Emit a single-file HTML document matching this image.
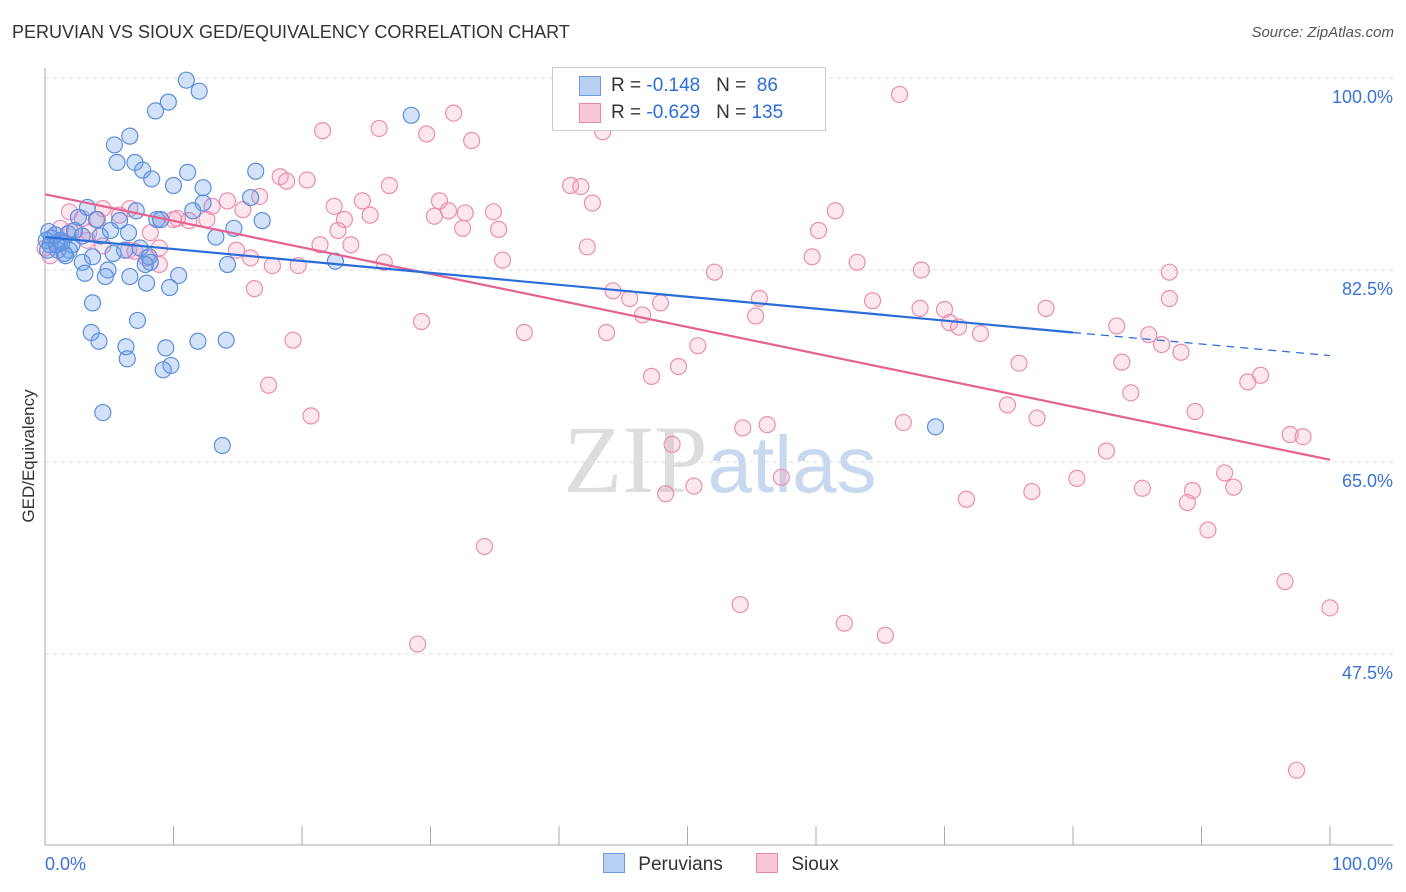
<!DOCTYPE html>
<html><head><meta charset="utf-8">
<style>
body{margin:0;background:#fff;font-family:"Liberation Sans",sans-serif;}
#wrap{position:relative;width:1406px;height:892px;overflow:hidden;}
.t{position:absolute;white-space:nowrap;}
</style></head>
<body>
<div id="wrap">
<div class="t" style="left:12px;top:22px;font-size:18px;color:#333;">PERUVIAN VS SIOUX GED/EQUIVALENCY CORRELATION CHART</div>
<div class="t" style="right:12px;top:24px;font-size:15px;color:#555;font-style:italic;">Source: ZipAtlas.com</div>
<svg id="plot" width="1406" height="892" style="position:absolute;left:0;top:0"></svg>
</div>
<script>
const yTicks=[100,82.5,65,47.5];
const yTickLabels=["100.0%","82.5%","65.0%","47.5%"];
const xTickCount=10;
const blueX=[11.0,12.0,9.6,8.6,28.5,6.6,5.4,7.0,5.6,7.6,11.1,16.4,8.3,10.0,12.3,16.0,12.3,3.3,7.1,11.5,16.9,8.7,2.6,4.0,5.8,9.0,14.7,13.3,0.3,0.8,1.2,1.8,2.3,2.9,0.4,1.0,1.5,1.9,4.3,5.1,6.5,5.3,6.2,7.4,8.1,7.8,8.2,2.9,3.7,4.9,10.4,6.6,4.7,3.1,14.2,22.6,9.7,7.9,3.7,7.2,3.6,4.2,6.3,9.4,11.9,14.1,6.4,9.8,9.2,4.5,13.8,69.3,0.1,0.5,0.9,1.3,2.1,0.2,1.6];
const blueY=[99.8,98.8,97.8,97.0,96.6,94.7,93.9,92.3,92.3,91.6,91.4,91.5,90.8,90.2,90.0,89.1,88.6,88.2,87.9,87.9,87.0,87.1,87.3,87.1,87.0,87.1,86.3,85.5,86.0,85.7,85.2,85.8,86.1,85.6,84.8,84.3,84.0,84.3,85.6,86.1,85.9,84.0,84.3,84.5,83.7,83.0,83.2,83.2,83.7,82.5,82.0,81.9,81.9,82.2,83.0,83.3,80.9,81.3,79.5,77.9,76.8,76.0,75.5,75.4,76.0,76.1,74.4,73.8,73.4,69.5,66.5,68.2,85.2,85.4,84.8,85.0,84.8,84.3,83.8];
const pinkX=[66.5,31.8,21.6,26.0,29.7,33.2,43.4,18.3,20.4,18.8,26.8,40.9,41.7,16.7,22.5,24.7,30.7,42.6,31.4,32.7,34.9,61.5,30.3,25.3,23.3,14.2,13.0,15.4,10.3,11.2,12.6,6.6,4.5,1.9,2.9,4.1,5.8,1.2,2.0,3.3,8.2,9.0,10.0,14.9,16.0,21.4,22.8,23.8,32.5,35.3,42.2,60.2,4.5,7.0,8.9,8.9,7.9,6.5,3.4,0.4,17.7,19.7,26.4,35.6,52.1,59.7,63.2,68.2,87.5,16.3,44.2,45.5,47.9,55.6,64.4,68.1,70.0,77.9,87.5,46.5,55.3,70.4,71.1,72.8,83.4,85.9,86.9,88.4,29.3,37.3,43.7,50.8,19.3,75.8,83.8,94.6,93.6,17.4,47.2,49.3,84.5,74.9,89.5,20.7,77.2,54.3,56.2,66.8,48.8,96.9,97.9,82.6,91.8,80.3,57.3,50.5,48.3,71.7,76.8,85.4,89.3,88.9,92.5,90.5,34.2,96.5,54.1,100.0,62.2,65.4,29.0,97.4,0.0];
const pinkY=[98.5,96.8,95.2,95.4,94.9,94.3,95.1,91.0,90.7,90.6,90.2,90.2,90.1,89.2,88.3,88.8,88.8,88.6,87.9,87.7,87.8,87.9,87.4,87.5,87.1,88.8,88.3,88.0,87.2,87.0,87.1,88.1,88.1,87.8,87.2,87.1,87.5,86.3,86.0,85.2,85.9,87.1,87.1,84.3,83.6,84.8,86.1,84.8,86.3,86.2,84.6,86.1,84.7,84.2,84.5,83.0,83.6,84.3,85.9,83.8,82.9,82.9,83.2,83.4,82.3,83.7,83.2,82.5,82.3,80.8,80.6,79.9,79.5,79.9,79.7,79.0,78.9,79.0,79.9,78.4,78.3,77.7,77.3,76.7,77.4,76.6,75.7,75.0,77.8,76.8,76.8,75.6,76.1,74.0,74.1,72.9,72.3,72.0,72.8,73.7,71.3,70.2,69.6,69.2,69.0,68.1,68.4,68.6,66.6,67.5,67.3,66.0,64.0,63.5,63.6,62.8,62.1,61.6,62.3,62.6,62.4,61.3,62.7,58.8,57.3,54.1,52.0,51.7,50.3,49.2,48.4,36.9,84.5];
const blueTrend=[85.5,76.8,74.7]; // at x=0, 80 (solid end), 100
const pinkTrend=[89.4,65.2];      // at x=0, 100
const NS="http://www.w3.org/2000/svg";
const svg=document.getElementById('plot');
const X=v=>45+v*12.85;
const Y=v=>78+(100-v)*10.97;
function mk(tag,attrs,parent){const e=document.createElementNS(NS,tag);for(const k in attrs)e.setAttribute(k,attrs[k]);(parent||svg).appendChild(e);return e;}
// gridlines
yTicks.forEach((t,i)=>{
 const g=mk('line',{x1:45,x2:1393,y1:Y(t),y2:Y(t),stroke:'#ddd','stroke-dasharray':'4,4'});
 
 
 const tx=mk('text',{x:1393,y:Y(t)+25,'text-anchor':'end','font-size':18,fill:'#3b73d4','font-family':'Liberation Sans'});
 tx.textContent=yTickLabels[i];
 
 
});
// axes
const ya=mk('line',{x1:45,x2:45,y1:68,y2:845,stroke:'#aaa'});


const xa=mk('line',{x1:45,x2:1393,y1:845,y2:845,stroke:'#aaa'});


for(let i=0;i<=xTickCount;i++){
 const tk=mk('line',{x1:X(i*10),x2:X(i*10),y1:826,y2:845,stroke:'#aaa'});
 
 
}
const xl0=mk('text',{x:45,y:870,'font-size':18,fill:'#3b73d4','font-family':'Liberation Sans'});xl0.textContent='0.0%';


const xl1=mk('text',{x:1393,y:870,'text-anchor':'end','font-size':18,fill:'#3b73d4','font-family':'Liberation Sans'});xl1.textContent='100.0%';


const yt=mk('text',{x:34,y:456,'text-anchor':'middle','font-size':17,fill:'#333','font-family':'Liberation Sans',transform:'rotate(-90 34 456)'});yt.textContent='GED/Equivalency';


// watermark
const wm=mk('text',{x:720,y:492,'text-anchor':'middle','font-size':96,'font-family':'Liberation Serif',fill:'#ddd'});
wm.innerHTML='ZIP<tspan font-family="Liberation Sans" fill="#c8d8ee" font-size="80">atlas</tspan>';


// points
pinkX.forEach((v,i)=>{const c=mk('circle',{cx:X(v),cy:Y(pinkY[i]),r:8,fill:'rgba(244,160,190,0.25)',stroke:'#eb8db0','stroke-width':1.2});
 
 });
blueX.forEach((v,i)=>{const c=mk('circle',{cx:X(v),cy:Y(blueY[i]),r:8,fill:'rgba(110,160,235,0.3)',stroke:'#5b8fdb','stroke-width':1.2});
 
 });
// trends
const pl=mk('line',{x1:X(0),y1:Y(pinkTrend[0]),x2:X(100),y2:Y(pinkTrend[1]),stroke:'#e4628f','stroke-width':2.2});


const bl=mk('line',{x1:X(0),y1:Y(blueTrend[0]),x2:X(80),y2:Y(blueTrend[1]),stroke:'#2a6dd8','stroke-width':2.2});


const bd=mk('line',{x1:X(80),y1:Y(blueTrend[1]),x2:X(100),y2:Y(blueTrend[2]),stroke:'#2a6dd8','stroke-width':1.2,'stroke-dasharray':'8,6'});


</script>
<div class="t" style="left:552px;top:67px;width:272px;height:62px;border:1px solid #ccc;background:#fff;">
 <div style="position:absolute;left:26px;top:8px;width:20px;height:18px;background:#b8d0f4;border:1px solid #6c9be0;"></div>
 <div class="t" style="left:58px;top:7px;font-size:19px;color:#333;">R = <span style="color:#2a6dd8">-0.148</span>&nbsp;&nbsp;&nbsp;N = &nbsp;<span style="color:#2a6dd8">86</span></div>
 <div style="position:absolute;left:26px;top:35px;width:20px;height:18px;background:#f8c8d8;border:1px solid #e88ab0;"></div>
 <div class="t" style="left:58px;top:34px;font-size:19px;color:#333;">R = <span style="color:#2a6dd8">-0.629</span>&nbsp;&nbsp;&nbsp;N = <span style="color:#2a6dd8">135</span></div>
</div>
<div class="t" style="left:603px;top:853px;font-size:19px;color:#333;">
 <span style="display:inline-block;width:20px;height:18px;background:#b8d0f4;border:1px solid #6c9be0;vertical-align:-3px;"></span>
 <span style="margin-left:8px">Peruvians</span>
 <span style="display:inline-block;width:20px;height:18px;background:#f8c8d8;border:1px solid #e88ab0;vertical-align:-3px;margin-left:28px;"></span>
 <span style="margin-left:8px">Sioux</span>
</div>
</body></html>
